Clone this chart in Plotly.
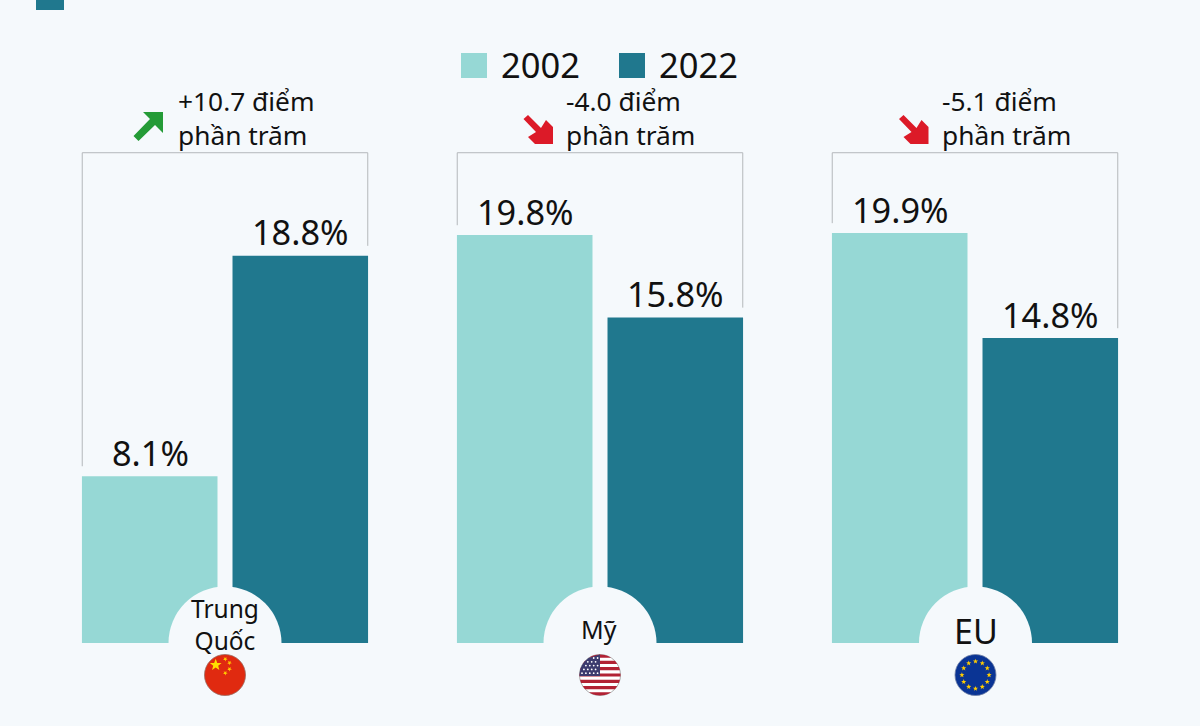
import math
import plotly.graph_objects as go

# Share of world exports by economy
regions = ["Trung Quốc", "Mỹ", "EU"]
years = ["2002", "2022"]
share_2002 = [8.1, 19.8, 19.9]
share_2022 = [18.8, 15.8, 14.8]
change_labels = ["+10.7 điểm<br>phần trăm", "-4.0 điểm<br>phần trăm", "-5.1 điểm<br>phần trăm"]

W, H = 1200, 726
BG = "#F5F9FC"
LIGHT = "#96D8D5"
DARK = "#20788E"
INK = "#111111"
RULE = "#B4B8BB"
FONT = "Noto Sans"
BRACKET_TOP = 23.8   # value level of the bracket's top edge
BRACKET_GAP = 0.48   # clearance between a bar top and its bracket leg
HALF_GROUP = 0.3807  # half width of a pair of bars, in category units
BAR_OFFSET = 0.2     # centre of a bar relative to the centre of its pair


def px(x):
    return x / W


def py(y):
    return 1 - y / H


def poly(points, color, line=None):
    d = "M" + "L".join(f"{px(x):.5f},{py(y):.5f}" for x, y in points) + "Z"
    return dict(type="path", xref="paper", yref="paper", path=d, fillcolor=color,
                line=dict(width=0.6 if line else 0, color=line or color), layer="above")


def disc(cx, cy, r, color, line=None):
    return dict(type="circle", xref="paper", yref="paper",
                x0=px(cx - r), x1=px(cx + r), y0=py(cy + r), y1=py(cy - r),
                fillcolor=color, line=dict(width=0.8 if line else 0, color=line or color),
                layer="above")


def star(cx, cy, r, color, turn=0.0):
    pts = []
    for i in range(10):
        rad = r if i % 2 == 0 else r * 0.42
        a = -math.pi / 2 + turn + i * math.pi / 5
        pts.append((cx + rad * math.cos(a), cy + rad * math.sin(a)))
    return poly(pts, color)


def clipped_band(cx, cy, r, y0, y1, x0=None, x1=None, color="#fff"):
    # Rectangle intersected with the flag's circle, sampled row by row
    left, right = [], []
    n = 6
    for i in range(n + 1):
        y = y0 + (y1 - y0) * i / n
        half = math.sqrt(max(r * r - (y - cy) ** 2, 0))
        a = cx - half if x0 is None else max(x0, cx - half)
        b = cx + half if x1 is None else min(x1, cx + half)
        left.append((a, y))
        right.append((max(a, b), y))
    return poly(left + right[::-1], color)


fig = go.Figure()
group_x = list(range(len(regions)))
for year, values, color in zip(years, [share_2002, share_2022], [LIGHT, DARK]):
    fig.add_bar(x=group_x, y=values, name=year, marker=dict(color=color, line_width=0),
                showlegend=False, hoverinfo="skip")

# Brackets linking the two bars of each economy
for i in group_x:
    fig.add_scatter(
        x=[i - HALF_GROUP, i - HALF_GROUP, i + HALF_GROUP, i + HALF_GROUP],
        y=[share_2002[i] + BRACKET_GAP, BRACKET_TOP, BRACKET_TOP, share_2022[i] + BRACKET_GAP],
        mode="lines", line=dict(color=RULE, width=1), showlegend=False, hoverinfo="skip",
    )

shapes = []
annotations = []


def text(x, y, s, size, anchor="center", color=INK):
    annotations.append(dict(xref="paper", yref="paper", x=px(x), y=py(y), text=s, showarrow=False,
                            xanchor=anchor, yanchor="middle", align="left" if anchor == "left" else "center",
                            font=dict(size=size, color=color, family=FONT), borderpad=0))


# Value labels above the bars
for sign, values in [(-1, share_2002), (1, share_2022)]:
    for i, v in zip(group_x, values):
        annotations.append(dict(x=i + sign * BAR_OFFSET, y=v, text=f"{v}%", showarrow=False,
                                xanchor="center", yanchor="middle", yshift=24,
                                font=dict(size=34.3, color=INK, family=FONT)))

# Header tab and legend
shapes.append(dict(type="rect", xref="paper", yref="paper", x0=px(36), x1=px(64), y0=py(10), y1=py(0),
                   fillcolor=DARK, line_width=0, layer="above"))
for x0, color, year, tx in [(461, LIGHT, years[0], 500), (619, DARK, years[1], 658)]:
    shapes.append(dict(type="rect", xref="paper", yref="paper", x0=px(x0), x1=px(x0 + 26),
                       y0=py(78), y1=py(53), fillcolor=color, line_width=0, layer="above"))
    text(tx, 65, year, 34.5, "left")

# Change notes above each bracket
GREEN = "#249B37"
RED = "#DC1A28"
up_arrow = [(163, 112), (143, 112), (150, 119), (133.5, 136), (138.5, 141), (155, 125), (163, 133)]
down_arrow = [(523.5, 119), (528, 115), (541, 128), (546, 120), (553, 127), (553, 144),
              (535, 144), (528, 137), (536, 132)]
shapes.append(poly(up_arrow, GREEN))
shapes.append(poly(down_arrow, RED))
shapes.append(poly([(x + 375.5, y) for x, y in down_arrow], RED))
for tx, label in zip([177, 565, 941], change_labels):
    text(tx, 118, label, 26.3, "left")

# Notches cut into the base of each pair, holding the region name
centers = [225, 600, 975.5]
for cx in centers:
    shapes.append(disc(cx, 643, 56.5, BG))
    shapes.append(dict(type="rect", xref="paper", yref="paper", x0=px(cx - 60), x1=px(cx + 60),
                       y0=py(700), y1=py(643), fillcolor=BG, line_width=0, layer="above"))
text(centers[0], 624, regions[0].replace(" ", "<br>"), 24.5)
text(centers[1] - 1, 629, regions[1], 25)
text(centers[2], 631, regions[2], 34)

R = 20.5
FY = 675
# China
cx = centers[0]
shapes.append(disc(cx, FY, R, "#E02A10", "#9a6a60"))
shapes.append(star(215.7, 665, 6.2, "#FFDE00"))
for sx, sy in [(225.3, 659), (229.5, 662.8), (229.5, 669), (225.3, 673)]:
    shapes.append(star(sx, sy, 2.4, "#FFC800", 0.5))

# United States
cx = centers[1]
shapes.append(disc(cx, FY, R, "#FFFFFF", "#9a9a9a"))
stripe = 2 * R / 13
for k in range(0, 13, 2):
    shapes.append(clipped_band(cx, FY, R, FY - R + k * stripe, FY - R + (k + 1) * stripe, color="#B22234"))
shapes.append(clipped_band(cx, FY, R, FY - R, FY + 1, x1=cx, color="#3C3B6E"))
for row in range(5):
    for col in range(5):
        sx = cx - 18 + col * 3.9 + (1.9 if row % 2 else 0)
        sy = FY - 17 + row * 3.8
        if (sx - cx) ** 2 + (sy - FY) ** 2 < (R - 1.5) ** 2 and sx < cx - 0.5:
            shapes.append(disc(sx, sy, 0.9, "#FFFFFF"))

# European Union
cx = centers[2]
shapes.append(disc(cx, FY, R, "#0A3494", "#6f7fa5"))
for k in range(12):
    a = k * math.pi / 6
    shapes.append(star(cx + 13.6 * math.sin(a), FY - 13.6 * math.cos(a), 2.7, "#FFCC00"))

fig.update_layout(
    width=W, height=H, margin=dict(l=0, r=0, t=0, b=0),
    paper_bgcolor=BG, plot_bgcolor=BG, barmode="group", bargap=0.197, bargroupgap=0.0997,
    xaxis=dict(domain=[37.5 / W, 1162.5 / W], range=[-0.5, 2.5], visible=False, fixedrange=True),
    yaxis=dict(domain=[83 / H, 1], range=[0, 643 / 20.6], visible=False, fixedrange=True),
    shapes=shapes, annotations=annotations, showlegend=False,
    font=dict(family=FONT, color=INK),
)
fig.write_html("out.html", config=dict(displayModeBar=False))
